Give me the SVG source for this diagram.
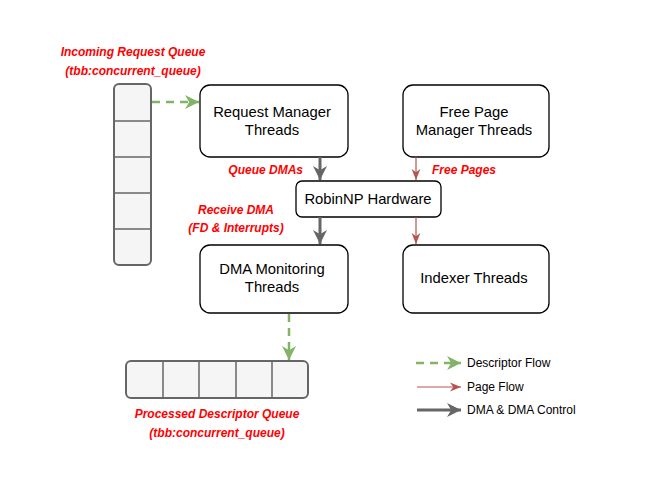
<svg xmlns="http://www.w3.org/2000/svg" width="664" height="485" viewBox="0 0 664 485">
<style>
.node{fill:#fff;stroke:#000;stroke-width:1.3}
.q{fill:#f5f5f5;stroke:#666;stroke-width:2}
.qd{stroke:#666;stroke-width:1.5}
.t{font-family:"Liberation Sans",Arial,sans-serif;font-size:14.8px;fill:#000;text-anchor:middle}
.lbl{font-family:"Liberation Sans",Arial,sans-serif;font-size:12px;font-weight:bold;font-style:italic;fill:#ff0000}
.lg{font-family:"Liberation Sans",Arial,sans-serif;font-size:12px;fill:#000}
.green{stroke:#82b366;stroke-width:2.5;stroke-dasharray:8 6;fill:none}
.red{stroke:#b85450;stroke-width:1.2;fill:none}
.gray{stroke:#666;stroke-width:3;fill:none}
</style>
<defs>
<marker id="ag" viewBox="0 0 10 10" refX="10" refY="5" markerWidth="14" markerHeight="14" markerUnits="userSpaceOnUse" orient="auto"><path d="M0,0 L10,5 L0,10 L3,5 Z" fill="#82b366"/></marker>
<marker id="ar" viewBox="0 0 10 10" refX="10" refY="5" markerWidth="11" markerHeight="11" markerUnits="userSpaceOnUse" orient="auto"><path d="M0,1 L10,5 L0,9 L3,5 Z" fill="#b85450"/></marker>
<marker id="ak" viewBox="0 0 10 10" refX="10" refY="5" markerWidth="14" markerHeight="14" markerUnits="userSpaceOnUse" orient="auto"><path d="M0,0 L10,5 L0,10 L3,5 Z" fill="#666"/></marker>
</defs>
<rect width="664" height="485" fill="#fff"/>

<g id="incoming-queue">
<rect class="q" x="114" y="84" width="37" height="181" rx="5"/>
<line class="qd" x1="114" y1="121" x2="151" y2="121"/>
<line class="qd" x1="114" y1="157" x2="151" y2="157"/>
<line class="qd" x1="114" y1="193" x2="151" y2="193"/>
<line class="qd" x1="114" y1="229" x2="151" y2="229"/>
<text class="lbl" x="133" y="56" text-anchor="middle">Incoming Request Queue</text>
<text class="lbl" x="133" y="75" text-anchor="middle">(tbb:concurrent_queue)</text>
</g>

<g id="processed-queue">
<rect class="q" x="126" y="361" width="182" height="37" rx="5"/>
<line class="qd" x1="163" y1="361" x2="163" y2="398"/>
<line class="qd" x1="199" y1="361" x2="199" y2="398"/>
<line class="qd" x1="236" y1="361" x2="236" y2="398"/>
<line class="qd" x1="272" y1="361" x2="272" y2="398"/>
<text class="lbl" x="217" y="418" text-anchor="middle">Processed Descriptor Queue</text>
<text class="lbl" x="217" y="437" text-anchor="middle">(tbb:concurrent_queue)</text>
</g>

<g id="request-manager">
<rect class="node" x="200" y="85" width="148" height="72" rx="10"/>
<text class="t" x="272" y="117">Request Manager</text>
<text class="t" x="272" y="135">Threads</text>
</g>

<g id="free-page-manager">
<rect class="node" x="403" y="85" width="146" height="72" rx="10"/>
<text class="t" x="474" y="117">Free Page</text>
<text class="t" x="474" y="135">Manager Threads</text>
</g>

<g id="robinnp">
<rect class="node" x="296" y="181" width="145" height="36" rx="6"/>
<text class="t" x="368" y="204">RobinNP Hardware</text>
</g>

<g id="dma-monitoring">
<rect class="node" x="200" y="245" width="148" height="68" rx="10"/>
<text class="t" x="272" y="274">DMA Monitoring</text>
<text class="t" x="272" y="292">Threads</text>
</g>

<g id="indexer">
<rect class="node" x="403" y="245" width="146" height="68" rx="10"/>
<text class="t" x="474" y="283">Indexer Threads</text>
</g>

<g id="connectors">
<line class="green" x1="152" y1="102" x2="199" y2="102" marker-end="url(#ag)"/>
<line class="gray" x1="320" y1="157" x2="320" y2="180" marker-end="url(#ak)"/>
<line class="gray" x1="320" y1="217" x2="320" y2="244" marker-end="url(#ak)"/>
<line class="red" x1="416" y1="157" x2="416" y2="180" marker-end="url(#ar)"/>
<line class="red" x1="416" y1="217" x2="416" y2="244" marker-end="url(#ar)"/>
<line class="green" x1="289" y1="314" x2="289" y2="360" marker-end="url(#ag)"/>
<text class="lbl" x="303" y="174" text-anchor="end">Queue DMAs</text>
<text class="lbl" x="432" y="174">Free Pages</text>
<text class="lbl" x="236" y="214" text-anchor="middle">Receive DMA</text>
<text class="lbl" x="236" y="232" text-anchor="middle">(FD &amp; Interrupts)</text>
</g>

<g id="legend">
<line class="green" x1="416" y1="363" x2="461" y2="363" marker-end="url(#ag)"/>
<text class="lg" x="467" y="367">Descriptor Flow</text>
<line class="red" x1="417" y1="387" x2="461" y2="387" marker-end="url(#ar)"/>
<text class="lg" x="467" y="391">Page Flow</text>
<line class="gray" x1="417" y1="410" x2="461" y2="410" marker-end="url(#ak)"/>
<text class="lg" x="467" y="414">DMA &amp; DMA Control</text>
</g>
</svg>
